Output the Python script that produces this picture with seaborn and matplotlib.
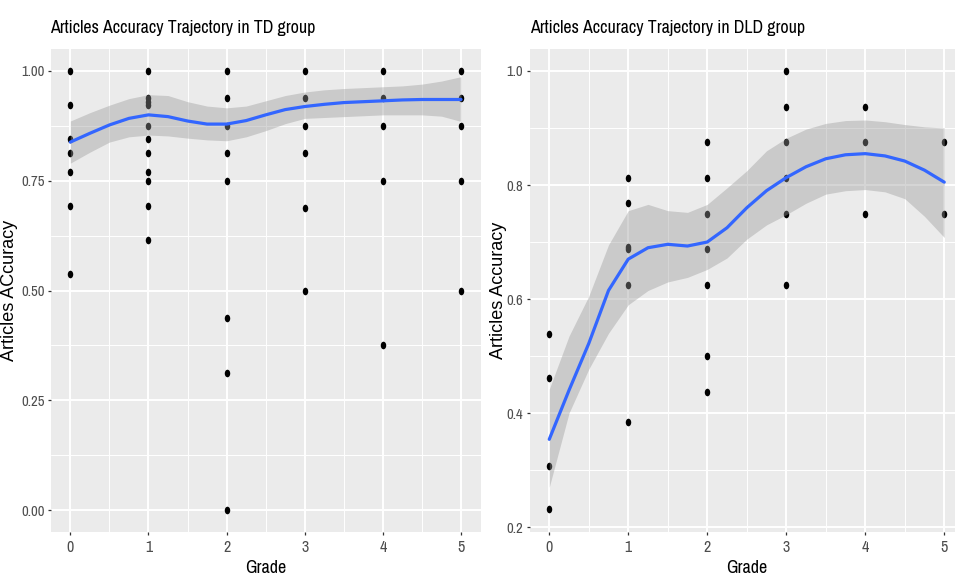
import numpy as np
import pandas as pd
import matplotlib
matplotlib.use("Agg")
import matplotlib.pyplot as plt
from matplotlib import font_manager
from matplotlib.path import Path
from matplotlib.transforms import Affine2D
import seaborn as sns

# ---------------- data ----------------
td_grade = [0, 0, 0, 0, 0, 0, 0,
            1, 1, 1, 1, 1, 1, 1, 1, 1, 1, 1,
            2, 2, 2, 2, 2, 2, 2, 2,
            3, 3, 3, 3, 3, 3,
            4, 4, 4, 4, 4,
            5, 5, 5, 5, 5]
td_acc = [1.0, 0.923, 0.846, 0.8125, 0.769, 0.692, 0.538,
          1.0, 0.9375, 0.929, 0.923, 0.875, 0.846, 0.8125, 0.769, 0.75, 0.692, 0.615,
          1.0, 0.9375, 0.875, 0.8125, 0.75, 0.4375, 0.3125, 0.0,
          1.0, 0.9375, 0.875, 0.8125, 0.6875, 0.5,
          1.0, 0.9375, 0.875, 0.75, 0.375,
          1.0, 0.9375, 0.875, 0.75, 0.5]

dld_grade = [0, 0, 0, 0,
             1, 1, 1, 1, 1, 1,
             2, 2, 2, 2, 2, 2, 2,
             3, 3, 3, 3, 3, 3,
             4, 4, 4,
             5, 5]
dld_acc = [0.538, 0.462, 0.308, 0.231,
           0.8125, 0.769, 0.692, 0.6875, 0.625, 0.385,
           0.875, 0.8125, 0.75, 0.6875, 0.625, 0.5, 0.4375,
           1.0, 0.9375, 0.875, 0.8125, 0.75, 0.625,
           0.9375, 0.875, 0.75,
           0.875, 0.75]

# smoother (loess) curve and confidence band
smooth_grade = [0.0, 0.25, 0.5, 0.75, 1.0, 1.25, 1.5, 1.75, 2.0, 2.25, 2.5,
                2.75, 3.0, 3.25, 3.5, 3.75, 4.0, 4.25, 4.5, 4.75, 5.0]
td_fit = [0.838, 0.858, 0.877, 0.892, 0.900, 0.896, 0.886, 0.879, 0.879, 0.887, 0.900,
          0.912, 0.919, 0.924, 0.928, 0.930, 0.932, 0.934, 0.935, 0.935, 0.935]
td_lo = [0.790, 0.815, 0.838, 0.850, 0.854, 0.852, 0.847, 0.843, 0.841, 0.850, 0.864,
         0.880, 0.892, 0.894, 0.896, 0.898, 0.900, 0.900, 0.900, 0.897, 0.885]
td_hi = [0.886, 0.905, 0.922, 0.937, 0.946, 0.944, 0.930, 0.920, 0.916, 0.920, 0.932,
         0.944, 0.952, 0.957, 0.960, 0.962, 0.964, 0.966, 0.970, 0.977, 0.987]

dld_fit = [0.354, 0.440, 0.522, 0.615, 0.670, 0.690, 0.696, 0.693, 0.700, 0.725, 0.760,
           0.790, 0.813, 0.832, 0.846, 0.853, 0.855, 0.851, 0.842, 0.826, 0.805]
dld_lo = [0.270, 0.400, 0.477, 0.540, 0.590, 0.615, 0.630, 0.638, 0.652, 0.672, 0.705,
          0.730, 0.748, 0.768, 0.784, 0.790, 0.792, 0.788, 0.776, 0.745, 0.708]
dld_hi = [0.442, 0.535, 0.605, 0.695, 0.755, 0.766, 0.755, 0.752, 0.766, 0.795, 0.825,
          0.860, 0.882, 0.898, 0.908, 0.913, 0.914, 0.911, 0.906, 0.902, 0.900]

td_yticks = [0.00, 0.25, 0.50, 0.75, 1.00]
td_yticklabels = ["0.00", "0.25", "0.50", "0.75", "1.00"]
dld_yticks = [0.2, 0.4, 0.6, 0.8, 1.0]
dld_yticklabels = ["0.2", "0.4", "0.6", "0.8", "1.0"]
grade_ticks = [0, 1, 2, 3, 4, 5]

titles = ["Articles Accuracy Trajectory in TD group",
          "Articles Accuracy Trajectory in DLD group"]
ylabels = ["Articles ACcuracy", "Articles Accuracy"]
xlabel = "Grade"

# ---------------- style ----------------
sns.set_theme(style="darkgrid")

# look for a condensed / narrow sans face
narrow_family = None
narrow_stretch = "normal"
for f in font_manager.fontManager.ttflist:
    nm = f.name.lower()
    if "narrow" in nm or "condensed" in nm:
        narrow_family = f.name
        break
if narrow_family is None:
    for f in font_manager.fontManager.ttflist:
        st = f.stretch
        if (isinstance(st, str) and "condensed" in st) or (isinstance(st, int) and st < 500):
            narrow_family = f.name
            narrow_stretch = st
            break

if narrow_family is not None:
    base_family = [narrow_family, "DejaVu Sans"]
    scale = 1.0
else:
    base_family = ["Liberation Sans", "DejaVu Sans"]
    scale = 0.80
plt.rcParams["font.family"] = base_family
if narrow_family is not None:
    plt.rcParams["font.stretch"] = narrow_stretch

W, H = 955, 584
fig = plt.figure(figsize=(W / 100, H / 100), dpi=100, facecolor="white")

panel_bottom = 1 - 532 / H
panel_h = (532 - 49) / H
ax_left = fig.add_axes([50.8 / W, panel_bottom, (480.6 - 50.8) / W, panel_h])
ax_right = fig.add_axes([529.5 / W, panel_bottom, 434.5 / W, panel_h])

ellipse = Path.unit_circle().transformed(Affine2D().scale(0.72, 1.0))

configs = [
    (ax_left, td_grade, td_acc, td_fit, td_lo, td_hi, td_yticks, td_yticklabels,
     (-0.05, 1.05), [0.125, 0.375, 0.625, 0.875], (18 - 50.8) / 429.8),
    (ax_right, dld_grade, dld_acc, dld_fit, dld_lo, dld_hi, dld_yticks, dld_yticklabels,
     (0.1915, 1.0385), [0.3, 0.5, 0.7, 0.9], (507 - 529.5) / 434.5),
]

for i, (ax, gx, gy, fit, lo, hi, yt, ytl, ylim, yminor, ylab_x) in enumerate(configs):
    ax.set_facecolor("#EBEBEB")
    for s in ax.spines.values():
        s.set_visible(False)
    df = pd.DataFrame({"Grade": gx, "Acc": gy})
    sns.scatterplot(data=df, x="Grade", y="Acc", ax=ax, color="black",
                    marker=ellipse, s=30, linewidth=0, zorder=3)
    sm = pd.DataFrame({"Grade": smooth_grade, "fit": fit, "lo": lo, "hi": hi})
    ax.fill_between(sm["Grade"], sm["lo"], sm["hi"], color="#999999", alpha=0.4,
                    linewidth=0, zorder=4)
    sns.lineplot(data=sm, x="Grade", y="fit", ax=ax, color="#3366FF",
                 linewidth=2.3, zorder=5)

    ax.set_xlim(-0.25, 5.25)
    ax.set_ylim(*ylim)
    ax.set_xticks(grade_ticks)
    ax.set_xticklabels([str(g) for g in grade_ticks])
    ax.set_xticks([0.5, 1.5, 2.5, 3.5, 4.5], minor=True)
    ax.set_yticks(yt)
    ax.set_yticklabels(ytl)
    ax.set_yticks(yminor, minor=True)
    ax.grid(which="major", color="white", linewidth=1.4)
    ax.grid(which="minor", color="white", linewidth=0.7)
    ax.set_axisbelow(True)
    ax.tick_params(which="major", length=2.5, width=0.9, color="#333333",
                   labelcolor="#4D4D4D", bottom=True, left=True)
    ax.tick_params(which="minor", length=0)
    ax.tick_params(axis="y", labelsize=10.5 * scale, pad=2)
    ax.tick_params(axis="x", labelsize=11.5 * scale, pad=3)
    ax.set_xlabel(xlabel, fontsize=13 * scale, color="black", labelpad=4)
    ax.set_ylabel(ylabels[i], fontsize=13, color="black",
                  family=["Liberation Sans", "DejaVu Sans"])
    ax.yaxis.set_label_coords(ylab_x, 0.5)

fig.text(50 / W, 1 - 33.5 / H, titles[0], fontsize=12.9 * scale, color="black",
         va="baseline")
fig.text(530 / W, 1 - 33.5 / H, titles[1], fontsize=12.9 * scale, color="black",
         va="baseline")

fig.savefig("out.png", dpi=100, facecolor="white")
